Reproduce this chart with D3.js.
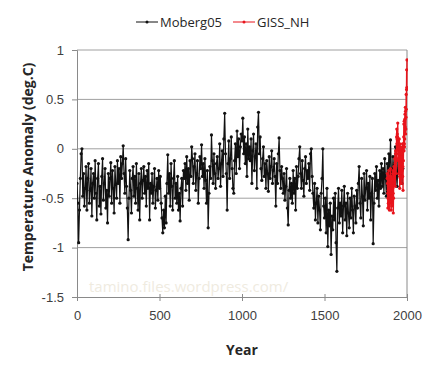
<!DOCTYPE html>
<html>
<head>
<meta charset="utf-8">
<script src="https://cdn.jsdelivr.net/npm/d3@7/dist/d3.min.js"></script>
<style>
  html, body { margin: 0; padding: 0; background: #fff; }
  svg { display: block; font-family: 'Open Sans', 'Noto Sans', sans-serif; }
</style>
</head>
<body>
<div id="chart"></div>
<script>
// Moberg05 reconstruction, read every 5 years from year 0 to 1975
const mobergValues = [
  -0.35, -0.55, -0.95, -0.62, -0.30, -0.05, 0.00, -0.48, -0.25, -0.58,
  -0.40, -0.18, -0.62, -0.30, -0.15, -0.55, -0.42, -0.20, -0.68, -0.35,
  -0.25, -0.50, -0.12, -0.45, -0.72, -0.30, -0.15, -0.58, -0.38, -0.66,
  -0.28, -0.10, -0.52, -0.35, -0.20, -0.60, -0.42, -0.75, -0.25, -0.48,
  -0.30, -0.14, -0.55, -0.22, -0.40, -0.65, -0.18, -0.36, -0.50, -0.12,
  -0.35, -0.20, -0.55, -0.08, -0.30, -0.15, 0.03, -0.25, -0.45, -0.10,
  -0.38, -0.60, -0.92, -0.50, -0.22, -0.42, -0.65, -0.30, -0.18, -0.48,
  -0.28, -0.55, -0.15, -0.40, -0.62, -0.25, -0.72, -0.35, -0.20, -0.50,
  -0.32, -0.18, -0.45, -0.28, -0.58, -0.22, -0.40, -0.15, -0.72, -0.35,
  -0.45, -0.25, -0.55, -0.38, -0.20, -0.60, -0.42, -0.30, -0.52, -0.22,
  -0.40, -0.28, -0.55, -0.70, -0.85, -0.62, -0.80, -0.48, -0.75, -0.35,
  -0.06, -0.45, -0.25, -0.58, -0.15, -0.38, -0.62, -0.30, -0.12, -0.50,
  -0.35, -0.55, -0.28, -0.62, -0.45, -0.73, -0.40, -0.30, -0.58, -0.22,
  -0.30, -0.15, -0.42, -0.08, -0.35, -0.20, -0.52, -0.12, -0.28, 0.02,
  -0.10, -0.35, -0.18, -0.05, -0.42, -0.25, -0.12, -0.55, -0.30, -0.08,
  -0.20, 0.04, -0.28, -0.15, -0.40, -0.10, -0.32, -0.55, -0.22, -0.80,
  -0.45, -0.18, -0.30, 0.14, -0.12, -0.35, -0.05, -0.25, -0.40, -0.15,
  -0.08, -0.30, -0.20, 0.05, -0.38, -0.15, -0.02, -0.28, 0.10, 0.36,
  -0.05, -0.25, -0.62, -0.15, 0.08, -0.30, -0.10, 0.12, -0.20, -0.40,
  -0.45, -0.12, 0.05, -0.25, 0.18, -0.08, 0.10, -0.20, 0.02, 0.15,
  0.08, 0.31, -0.05, 0.12, -0.15, 0.05, -0.28, 0.20, -0.10, 0.02,
  -0.12, 0.10, -0.35, -0.02, 0.15, -0.22, -0.08, 0.05, -0.40, 0.22,
  0.37, -0.05, 0.12, -0.20, -0.32, -0.10, 0.02, -0.28, -0.15, -0.40,
  -0.12, -0.25, -0.43, -0.08, -0.30, -0.18, -0.02, -0.35, -0.22, -0.10,
  -0.28, -0.58, -0.15, -0.35, -0.05, 0.11, -0.22, -0.40, -0.18, -0.30,
  -0.45, -0.25, -0.52, -0.38, -0.20, -0.60, -0.77, -0.42, -0.30, -0.50,
  -0.35, -0.55, -0.22, -0.45, -0.30, -0.62, -0.18, -0.40, -0.28, -0.10,
  0.02, -0.25, -0.40, -0.12, -0.32, -0.48, -0.20, -0.08, -0.35, -0.22,
  -0.30, -0.15, -0.42, -0.05, 0.00, -0.28, -0.45, -0.60, -0.35, -0.72,
  -0.55, -0.40, -0.75, -0.48, -0.62, -0.82, -0.45, -0.30, 0.00, -0.58,
  -0.70, -0.50, -0.85, -0.40, -0.99, -0.62, -0.78, -0.55, -1.07, -0.68,
  -0.82, -0.50, -0.72, -0.45, -0.95, -1.24, -0.60, -0.40, -0.75, -0.55,
  -0.68, -0.42, -0.85, -0.58, -0.38, -0.72, -0.55, -0.88, -0.45, -0.65,
  -0.80, -0.50, -0.70, -0.40, -0.62, -0.85, -0.48, -0.58, -0.75, -0.42,
  -0.60, -0.35, -0.18, -0.55, -0.70, -0.30, -0.48, -0.78, -0.25, -0.52,
  -0.40, -0.22, -0.62, -0.35, -0.50, -0.28, -0.72, -0.45, -0.30, -0.96,
  -0.55, -0.25, -0.42, -0.18, -0.50, -0.32, -0.58, -0.22, -0.40, -0.15,
  -0.38, -0.20, -0.45, -0.10, -0.30, -0.48, -0.15, -0.35, -0.05, -0.25,
  0.09, -0.20, -0.35, -0.08, -0.30, -0.15, 0.02, -0.25, -0.38, -0.12,
  -0.22, -0.05, -0.30, -0.15, -0.35, -0.20
];
const mobergYears = mobergValues.map((v, i) => i * 5);

// GISS_NH annual anomalies, 1880 to 2000
const gissValues = [
  -0.30, -0.25, -0.35, -0.45, -0.60, -0.50, -0.42, -0.55, -0.38, -0.22,
  -0.48, -0.40, -0.55, -0.62, -0.45, -0.50, -0.28, -0.30, -0.52, -0.35,
  -0.20, -0.28, -0.45, -0.55, -0.62, -0.40, -0.30, -0.58, -0.52, -0.48,
  -0.50, -0.55, -0.48, -0.40, -0.25, -0.22, -0.45, -0.65, -0.50, -0.35,
  -0.32, -0.18, -0.35, -0.28, -0.30, -0.20, -0.10, -0.18, -0.15, -0.38,
  -0.05, -0.02, -0.08, -0.25, -0.05, -0.12, -0.02, 0.12, 0.20, 0.05,
  0.10, 0.15, 0.05, 0.12, 0.26, 0.02, -0.10, 0.00, -0.05, -0.12,
  -0.25, -0.05, 0.02, 0.10, -0.18, -0.28, -0.40, 0.05, 0.00, -0.02,
  -0.05, 0.02, -0.02, 0.00, -0.35, -0.30, -0.12, -0.08, -0.20, -0.05,
  -0.05, -0.22, -0.15, 0.05, -0.28, -0.18, -0.42, -0.02, -0.12, 0.05,
  0.12, 0.25, -0.02, 0.28, 0.05, 0.02, 0.10, 0.30, 0.35, 0.22,
  0.42, 0.38, 0.15, 0.20, 0.32, 0.55, 0.40, 0.60, 0.80, 0.62,
  0.90
];
const gissYears = gissValues.map((v, i) => 1880 + i);

const xTicks = [0, 500, 1000, 1500, 2000];
const yTicks = [-1.5, -1, -0.5, 0, 0.5, 1];
const seriesNames = ['Moberg05', 'GISS_NH'];
const seriesColors = ['#111111', '#e8141c'];

const W = 430, H = 372;
const plotLeft = 77, plotRight = 407, plotTop = 50, plotBottom = 297;

const svg = d3.select('#chart').append('svg')
  .attr('width', W).attr('height', H);

svg.append('rect').attr('width', W).attr('height', H).attr('fill', '#fff');

const x = d3.scaleLinear().domain([0, 2000]).range([plotLeft, plotRight]);
const y = d3.scaleLinear().domain([-1.5, 1]).range([plotBottom, plotTop]);

// gridlines
svg.append('g')
  .selectAll('line')
  .data(yTicks.filter(t => t > -1.5))
  .join('line')
  .attr('x1', plotLeft).attr('x2', plotRight)
  .attr('y1', d => y(d)).attr('y2', d => y(d))
  .attr('stroke', '#a0a0a0').attr('stroke-width', 1);

// right border
svg.append('line')
  .attr('x1', plotRight).attr('x2', plotRight).attr('y1', plotTop).attr('y2', plotBottom)
  .attr('stroke', '#8a8a8a');

// axes
const xAxis = svg.append('g')
  .attr('transform', `translate(0,${plotBottom})`)
  .call(d3.axisBottom(x).tickValues(xTicks).tickSize(4).tickPadding(10).tickFormat(d3.format('d')));
const yAxis = svg.append('g')
  .attr('transform', `translate(${plotLeft},0)`)
  .call(d3.axisLeft(y).tickValues(yTicks).tickSize(5).tickPadding(8).tickFormat(d => d));

[xAxis, yAxis].forEach(a => {
  a.select('.domain').attr('stroke', '#8a8a8a');
  a.selectAll('.tick line').attr('stroke', '#8a8a8a');
  a.selectAll('.tick text').attr('fill', '#404040')
    .style('font-size', '13px');
});
xAxis.selectAll('.tick line').attr('y1', -3);

// clip region for data
svg.append('clipPath').attr('id', 'plot')
  .append('rect').attr('x', plotLeft).attr('y', plotTop - 2)
  .attr('width', plotRight - plotLeft + 1).attr('height', plotBottom - plotTop + 4);

const line = d3.line().x(d => x(d[0])).y(d => y(d[1]));
const series = [
  d3.zip(mobergYears, mobergValues),
  d3.zip(gissYears, gissValues)
];
const strokeW = [1.2, 1.4];

const data = svg.append('g').attr('clip-path', 'url(#plot)');
series.forEach((pts, i) => {
  data.append('path')
    .datum(pts)
    .attr('d', line)
    .attr('fill', 'none')
    .attr('stroke', seriesColors[i])
    .attr('stroke-width', strokeW[i]);
  data.append('g')
    .selectAll('circle')
    .data(pts)
    .join('circle')
    .attr('cx', d => x(d[0]))
    .attr('cy', d => y(d[1]))
    .attr('r', 1.6)
    .attr('fill', seriesColors[i]);
});

// watermark
svg.append('text')
  .attr('x', 89).attr('y', 292)
  .attr('fill', '#efebdf')
  .style('font-size', '15px')
  .text('tamino.files.wordpress.com/');

// axis titles
svg.append('text')
  .attr('x', 242).attr('y', 355)
  .attr('text-anchor', 'middle')
  .attr('fill', '#262626')
  .style('font-size', '14px').style('font-weight', 'bold')
  .text('Year');

svg.append('text')
  .attr('transform', 'translate(33,167) rotate(-90)')
  .attr('text-anchor', 'middle')
  .attr('fill', '#262626')
  .style('font-size', '14px').style('font-weight', 'bold')
  .text('Temperature Anomaly (deg.C)');

// legend
const legendX = [136, 233];
const legend = svg.append('g');
seriesNames.forEach((name, i) => {
  const g = legend.append('g').attr('transform', `translate(${legendX[i]},22)`);
  g.append('line').attr('x1', 0).attr('x2', 22)
    .attr('stroke', seriesColors[i]).attr('stroke-width', 1);
  g.append('circle').attr('cx', 11).attr('r', 1.5).attr('fill', seriesColors[i]);
  g.append('text').attr('x', 24).attr('y', 5)
    .attr('fill', '#262626')
    .style('font-size', '13px')
    .text(name);
});
</script>
</body>
</html>
